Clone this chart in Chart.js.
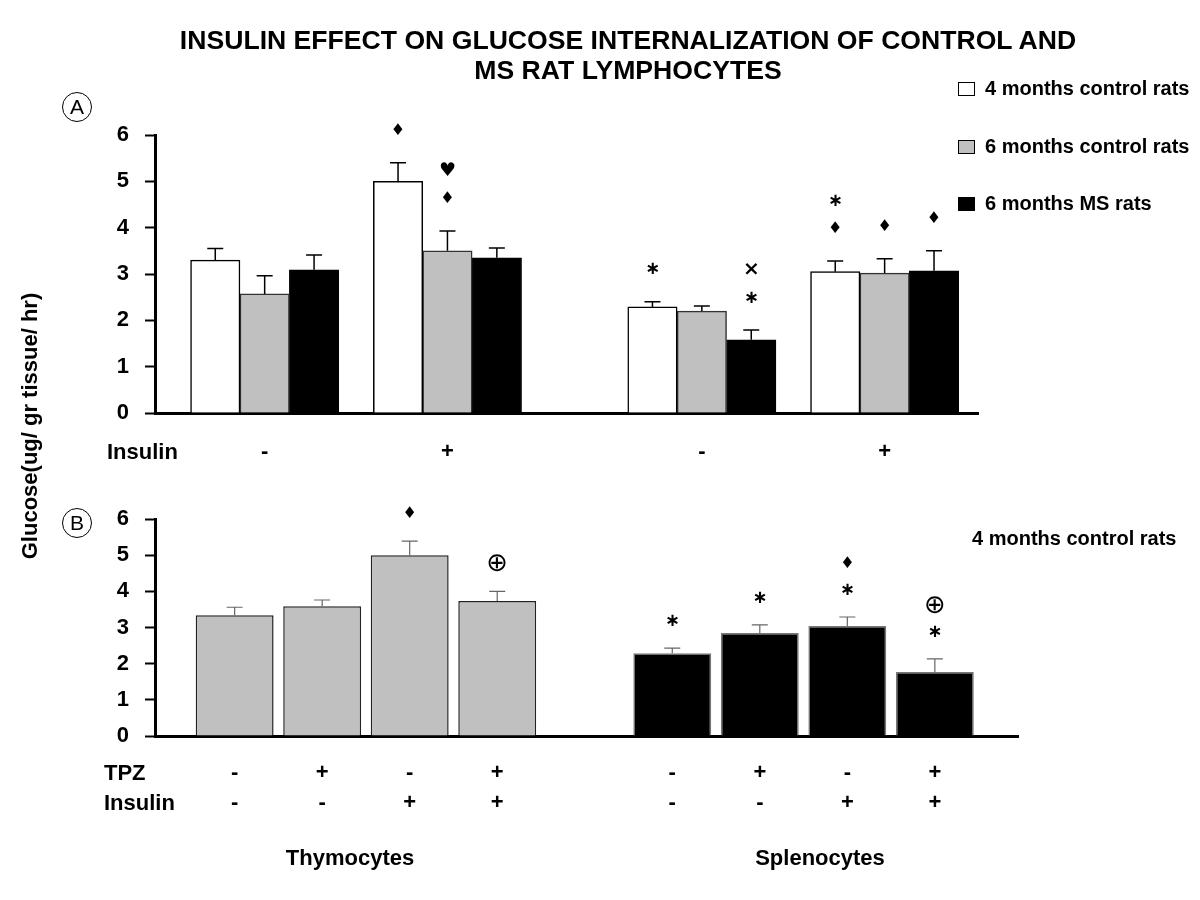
<!DOCTYPE html>
<html>
<head>
<meta charset="utf-8">
<script src="https://cdn.jsdelivr.net/npm/chart.js@4.4.1/dist/chart.umd.min.js"></script>
<style>
  body { margin: 0; background: #fff; }
  #page { position: relative; width: 1200px; height: 900px; overflow: hidden;
          font-family: "Liberation Sans", Arial, sans-serif; font-weight: bold; color: #000; }
  canvas { position: absolute; left: 0; }
  .txt { position: absolute; white-space: nowrap; }
  .circ { position: absolute; width: 28px; height: 28px; border: 1.5px solid #000; border-radius: 50%;
          text-align: center; line-height: 28px; font-size: 21px; font-weight: normal; }
  .box { position: absolute; width: 15px; height: 12px; border: 1px solid #000; }
</style>
</head>
<body>
<div id="page">
  <canvas id="chartA" width="1200" height="480" style="top:0"></canvas>
  <canvas id="chartB" width="1200" height="420" style="top:480px"></canvas>

  <div class="txt" style="left:128px;top:25px;width:1000px;text-align:center;font-size:26.6px;line-height:30px">
    INSULIN EFFECT ON GLUCOSE INTERNALIZATION OF CONTROL AND<br>MS RAT LYMPHOCYTES</div>

  <div class="txt" style="left:-170px;top:411px;width:400px;text-align:center;font-size:22px;line-height:30px;transform:rotate(-90deg)">Glucose(ug/ gr tissue/ hr)</div>

  <div class="circ" style="left:62px;top:92px">A</div>
  <div class="circ" style="left:62px;top:508px">B</div>

  <div class="box" style="left:958px;top:82px;background:#fff"></div>
  <div class="txt" style="left:985px;top:73px;font-size:20px;line-height:30px">4 months control rats</div>
  <div class="box" style="left:958px;top:140px;background:#c0c0c0"></div>
  <div class="txt" style="left:985px;top:131px;font-size:20px;line-height:30px">6 months control rats</div>
  <div class="box" style="left:958px;top:197px;background:#000"></div>
  <div class="txt" style="left:985px;top:188px;font-size:20px;line-height:30px">6 months MS rats</div>

  <div class="txt" style="left:107px;top:437px;font-size:22px;line-height:30px">Insulin</div>

  <div class="txt" style="left:972px;top:523px;font-size:20px;line-height:30px">4 months control rats</div>

  <div class="txt" style="left:104px;top:758px;font-size:22px;line-height:30px">TPZ</div>
  <div class="txt" style="left:104px;top:788px;font-size:22px;line-height:30px">Insulin</div>
  <div class="txt" style="left:250px;top:843px;width:200px;text-align:center;font-size:22px;line-height:30px">Thymocytes</div>
  <div class="txt" style="left:720px;top:843px;width:200px;text-align:center;font-size:22px;line-height:30px">Splenocytes</div>
</div>

<script>
// ---- Panel A: thymocytes (-/+ insulin), splenocytes (-/+ insulin)
var insulinA = ['-', '+', '-', '+'];
var control4 = [3.30, 5.00, 2.29, 3.05];
var control4Err = [0.25, 0.40, 0.11, 0.23];
var control6 = [2.57, 3.50, 2.20, 3.02];
var control6Err = [0.39, 0.43, 0.11, 0.31];
var ms6 = [3.09, 3.35, 1.58, 3.07];
var ms6Err = [0.32, 0.21, 0.21, 0.43];
// significance marks, listed bottom to top
var control4Marks = [[], ['♦'], ['∗'], ['♦', '∗']];
var control6Marks = [[], ['♦', '♥'], [], ['♦']];
var ms6Marks = [[], [], ['∗', '×'], ['♦']];

// ---- Panel B: 4 months control rats, TPZ / insulin
var tpzB = ['-', '+', '-', '+', '-', '+', '-', '+'];
var insulinB = ['-', '-', '+', '+', '-', '-', '+', '+'];
var glucoseB = [3.34, 3.59, 5.00, 3.73, 2.29, 2.85, 3.04, 1.77];
var glucoseErrB = [0.22, 0.17, 0.39, 0.27, 0.14, 0.22, 0.25, 0.36];
var marksB = [[], [], ['♦'], ['⊕'], ['∗'], ['∗'], ['∗', '♦'], ['∗', '⊕']];

var GRAY = '#c0c0c0';
Chart.defaults.font.family = '"Liberation Sans", Arial, sans-serif';
Chart.defaults.color = '#000';

// layout on the linear x axes (A: one unit = one bar width)
function groupCenterA(g) { return 2.22 + g * 3.7 + (g >= 2 ? 1.45 : 0); }
function barXA(g, s) { return groupCenterA(g) + (s - 1); }
function barXB(i) { return 0.91 + i + (i >= 4 ? 1 : 0); }

var markFont = {
    '♦': '16px "DejaVu Sans"',
    '♥': '19px "DejaVu Sans"',
    '∗': 'bold 18px "DejaVu Sans"',
    '×': 'bold 20px "DejaVu Sans"',
    '⊕': '26px "DejaVu Sans"'
};

// draws error bars (upper only) and the stacked significance marks
var errorBarPlugin = {
    id: 'errorBars',
    afterDatasetsDraw: function (chart, args, opts) {
        var ctx = chart.ctx;
        var yScale = chart.scales.y;
        chart.data.datasets.forEach(function (ds, i) {
            var meta = chart.getDatasetMeta(i);
            meta.data.forEach(function (bar, j) {
                var top = yScale.getPixelForValue(ds.data[j].y + ds.errors[j]);
                ctx.save();
                ctx.strokeStyle = opts.color;
                ctx.lineWidth = opts.width;
                ctx.beginPath();
                ctx.moveTo(bar.x, bar.y);
                ctx.lineTo(bar.x, top);
                ctx.moveTo(bar.x - opts.cap, top);
                ctx.lineTo(bar.x + opts.cap, top);
                ctx.stroke();
                ctx.fillStyle = '#000';
                ctx.textAlign = 'center';
                ctx.textBaseline = 'middle';
                (ds.marks[j] || []).forEach(function (m, k) {
                    ctx.font = markFont[m];
                    ctx.fillText(m, bar.x, top - opts.gap - k * opts.step);
                });
                ctx.restore();
            });
        });
    }
};

function yAxis(width) {
    return {
        min: 0, max: 6,
        ticks: { stepSize: 1, padding: 16, font: { size: 22, weight: 'bold' }, color: '#000' },
        grid: { drawOnChartArea: false, drawTicks: true, tickLength: 10, tickColor: '#000', tickWidth: 2 },
        border: { color: '#000', width: 3 },
        afterFit: function (scale) { scale.width = width; }
    };
}

function seriesA(values, s) {
    return values.map(function (v, g) { return { x: barXA(g, s), y: v }; });
}

new Chart(document.getElementById('chartA'), {
    type: 'bar',
    data: {
        datasets: [{
            label: '4 months control rats',
            data: seriesA(control4, 0), errors: control4Err, marks: control4Marks,
            backgroundColor: '#fff', borderColor: '#000', borderWidth: 1.5
        }, {
            label: '6 months control rats',
            data: seriesA(control6, 1), errors: control6Err, marks: control6Marks,
            backgroundColor: GRAY, borderColor: '#333', borderWidth: 1.5
        }, {
            label: '6 months MS rats',
            data: seriesA(ms6, 2), errors: ms6Err, marks: ms6Marks,
            backgroundColor: '#000', borderColor: '#000', borderWidth: 1
        }]
    },
    options: {
        responsive: false,
        animation: false,
        grouped: false,
        barPercentage: 1,
        categoryPercentage: 1,
        layout: { padding: { top: 135, left: 0, right: 222, bottom: 0 } },
        plugins: {
            legend: { display: false },
            tooltip: { enabled: false },
            errorBars: { color: '#000', width: 1.5, cap: 8, gap: 32, step: 28 }
        },
        scales: {
            x: {
                type: 'linear', min: 0, max: 16.66, offset: false,
                grid: { display: false, drawTicks: false },
                border: { color: '#000', width: 3 },
                afterBuildTicks: function (scale) {
                    scale.ticks = insulinA.map(function (l, g) { return { value: groupCenterA(g) }; });
                },
                ticks: {
                    autoSkip: false, maxRotation: 0, padding: 26,
                    font: { size: 22, weight: 'bold' }, color: '#000',
                    callback: function (v, i) { return insulinA[i]; }
                },
                afterFit: function (scale) { scale.height = 67; }
            },
            y: yAxis(155)
        }
    },
    plugins: [errorBarPlugin]
});

new Chart(document.getElementById('chartB'), {
    type: 'bar',
    data: {
        datasets: [{
            label: '4 months control rats',
            data: glucoseB.map(function (v, i) { return { x: barXB(i), y: v }; }),
            errors: glucoseErrB, marks: marksB,
            backgroundColor: glucoseB.map(function (v, i) { return i < 4 ? GRAY : '#000'; }),
            borderColor: glucoseB.map(function (v, i) { return i < 4 ? '#222' : '#777'; }),
            borderWidth: 1.5
        }]
    },
    options: {
        responsive: false,
        animation: false,
        grouped: false,
        barPercentage: 0.89,
        categoryPercentage: 1,
        layout: { padding: { top: 39, left: 0, right: 182, bottom: 0 } },
        plugins: {
            legend: { display: false },
            tooltip: { enabled: false },
            errorBars: { color: '#666', width: 1.2, cap: 8, gap: 27, step: 26 }
        },
        scales: {
            x: {
                type: 'linear', min: 0, max: 9.86, offset: false,
                grid: { display: false, drawTicks: false },
                border: { color: '#000', width: 3 },
                afterBuildTicks: function (scale) {
                    scale.ticks = glucoseB.map(function (v, i) { return { value: barXB(i) }; });
                },
                ticks: {
                    autoSkip: false, maxRotation: 0, padding: 22,
                    font: { size: 22, weight: 'bold', lineHeight: '30px' }, color: '#000',
                    callback: function (v, i) { return [tpzB[i], insulinB[i]]; }
                },
                afterFit: function (scale) { scale.height = 164; }
            },
            y: yAxis(155)
        }
    },
    plugins: [errorBarPlugin]
});
</script>
</body>
</html>
